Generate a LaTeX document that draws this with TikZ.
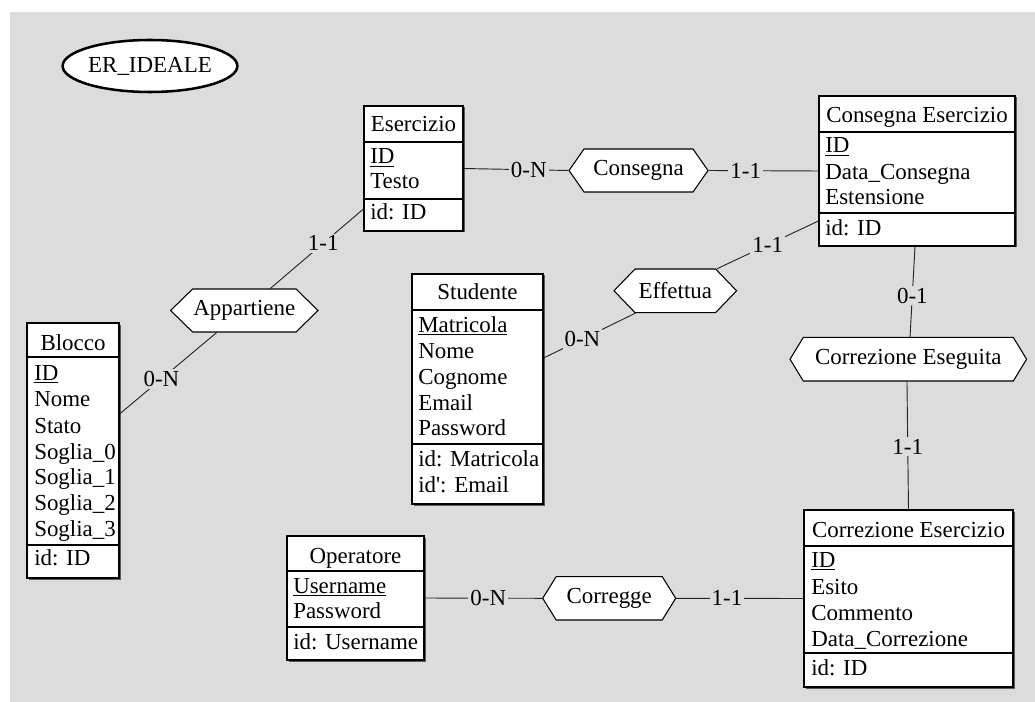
\documentclass[tikz,border=0pt]{standalone}
\usepackage{fontspec}
\setmainfont{Liberation Serif}
\usetikzlibrary{shapes.geometric}
\definecolor{canvasgray}{RGB}{220,220,220}

% entity box: name, x1, y1, x2, y2, header rule, identifier rule
\newcommand\erentity[7]{%
  \fill[black!65] (#2+1.5,#3+1.5) rectangle (#4+1.5,#5+1.5);
  \node[ebox, minimum width={(#4-#2)*0.75pt}, minimum height={(#5-#3)*0.75pt}]
    (#1) at ({(#2+#4)/2},{(#3+#5)/2}) {};
  \draw[sep] (#2,#6) -- (#4,#6);
  \draw[sep] (#2,#7) -- (#4,#7);
}
% relationship hexagon: name, cx, cy, half width, half height, slant, label
\newcommand\errel[7]{%
  \draw[hexa] (#2-#4,#3) -- (#2-#4+#6,#3-#5) -- (#2+#4-#6,#3-#5) -- (#2+#4,#3)
    -- (#2+#4-#6,#3+#5) -- (#2-#4+#6,#3+#5) -- cycle;
  \node[inner sep=0pt, minimum width={2*#4*0.75pt}, minimum height={2*#5*0.75pt}]
    (#1) at (#2,#3) {#7};
}

\begin{document}
\begin{tikzpicture}[x=0.75pt,y=-0.75pt,
  every node/.style={font=\fontsize{17.2pt}{19.5pt}\selectfont, text=black},
  ebox/.style={draw, line width=0.9pt, fill=white, inner sep=0pt, rectangle},
  sep/.style={line width=0.9pt},
  hexa/.style={draw, line width=0.8pt, fill=white, line join=miter},
  link/.style={line width=0.7pt, black!85},
  card/.style={fill=canvasgray, inner sep=1.5pt, text=black},
  attr/.style={anchor=base west, inner sep=0pt},
  head/.style={anchor=base, inner sep=0pt}]

\useasboundingbox (0,0) rectangle (1035,702);
\fill[white] (0,0) rectangle (1035,702);
\fill[canvasgray] (10,12) rectangle (1035,702);

% schema title
\node[ellipse, draw, line width=1.9pt, fill=white, inner sep=0pt,
  minimum width=117pt, minimum height=39pt] (title) at (150,66) {ER\_IDEALE};

% entities
\erentity{ese}{364}{106}{463}{231}{142}{199}
\node[head] (eseH) at (413.5,132) {Esercizio};
\node[attr] (eseA1) at (370,164) {\underline{ID}};
\node[attr] (eseA2) at (370,189) {Testo};
\node[attr] (eseK1) at (370,220) {id: ID};

\erentity{cons}{819}{96}{1015}{246}{132}{213}
\node[head] (consH) at (917,123) {Consegna Esercizio};
\node[attr] (consA1) at (825,153) {\underline{ID}};
\node[attr] (consA2) at (825,179.5) {Data\_Consegna};
\node[attr] (consA3) at (825,205) {Estensione};
\node[attr] (consK1) at (825,236) {id: ID};

\erentity{stu}{412}{274}{543}{504}{310}{444}
\node[head] (stuH) at (477.5,300) {Studente};
\node[attr] (stuA1) at (418,332) {\underline{Matricola}};
\node[attr] (stuA2) at (418,358) {Nome};
\node[attr] (stuA3) at (418,384) {Cognome};
\node[attr] (stuA4) at (418,410) {Email};
\node[attr] (stuA5) at (418,435) {Password};
\node[attr] (stuK1) at (418,466) {id: Matricola};
\node[attr] (stuK2) at (418,492) {id\textquotesingle: Email};

\erentity{blo}{27}{323}{119}{578}{357}{545}
\node[head] (bloH) at (73,350) {Blocco};
\node[attr] (bloA1) at (34,380) {\underline{ID}};
\node[attr] (bloA2) at (34,406) {Nome};
\node[attr] (bloA3) at (34,433) {Stato};
\node[attr] (bloA4) at (34,459) {Soglia\_0};
\node[attr] (bloA5) at (34,484) {Soglia\_1};
\node[attr] (bloA6) at (34,510) {Soglia\_2};
\node[attr] (bloA7) at (34,536) {Soglia\_3};
\node[attr] (bloK1) at (34,565) {id: ID};

\erentity{corr}{804}{510}{1013}{687}{546}{653}
\node[head] (corrH) at (908.5,537) {Correzione Esercizio};
\node[attr] (corrA1) at (811,567) {\underline{ID}};
\node[attr] (corrA2) at (811,594) {Esito};
\node[attr] (corrA3) at (811,620) {Commento};
\node[attr] (corrA4) at (811,646) {Data\_Correzione};
\node[attr] (corrK1) at (811,675) {id: ID};

\erentity{ope}{287}{536}{424}{660}{571}{627}
\node[head] (opeH) at (355.5,563) {Operatore};
\node[attr] (opeA1) at (293,593) {\underline{Username}};
\node[attr] (opeA2) at (293,618) {Password};
\node[attr] (opeK1) at (293,649) {id: Username};

% relationships
\errel{rCons}{638.5}{170.5}{69.5}{21.5}{15}{Consegna}
\errel{rApp}{244.3}{310.5}{73.7}{21.5}{22}{Appartiene}
\errel{rEff}{675.3}{290.8}{61.3}{21.8}{21}{Effettua}
\errel{rEseg}{908.3}{359.2}{118.3}{21.8}{13.3}{Correzione Eseguita}
\errel{rCorr}{609.2}{598.3}{66.5}{21.7}{13.5}{Corregge}

% connectors with cardinalities
\draw[link] (ese.east) -- node[card, pos=0.62] (c1) {0-N} (rCons.west);
\draw[link] (rCons.east) -- node[card, pos=0.34] (c2) {1-1} (cons.west);
\draw[link] ([yshift=-30.4pt]ese.west) -- node[card, pos=0.43] (c3) {1-1} ([xshift=19.3pt]rApp.north);
\draw[link] ([xshift=-20.5pt]rApp.south) -- node[card, pos=0.57] (c4) {0-N} ([yshift=27.4pt]blo.east);
\draw[link] ([xshift=31.3pt]rEff.north) -- node[card, pos=0.5] (c5) {1-1} ([yshift=-37.5pt]cons.west);
\draw[link] ([xshift=-29.5pt]rEff.south) -- node[card, pos=0.58] (c6) {0-N} ([yshift=23.25pt]stu.east);
\draw[link] ([xshift=-1.5pt]cons.south) -- node[card, pos=0.54] (c7) {0-1} ([xshift=1.3pt]rEseg.north);
\draw[link] ([xshift=-1pt]rEseg.south) -- node[card, pos=0.51] (c8) {1-1} (corr.north);
\draw[link] (ope.east) -- node[card, pos=0.54] (c9) {0-N} (rCorr.west);
\draw[link] (rCorr.east) -- node[card, pos=0.4] (c10) {1-1} (corr.west);

\end{tikzpicture}
\end{document}
